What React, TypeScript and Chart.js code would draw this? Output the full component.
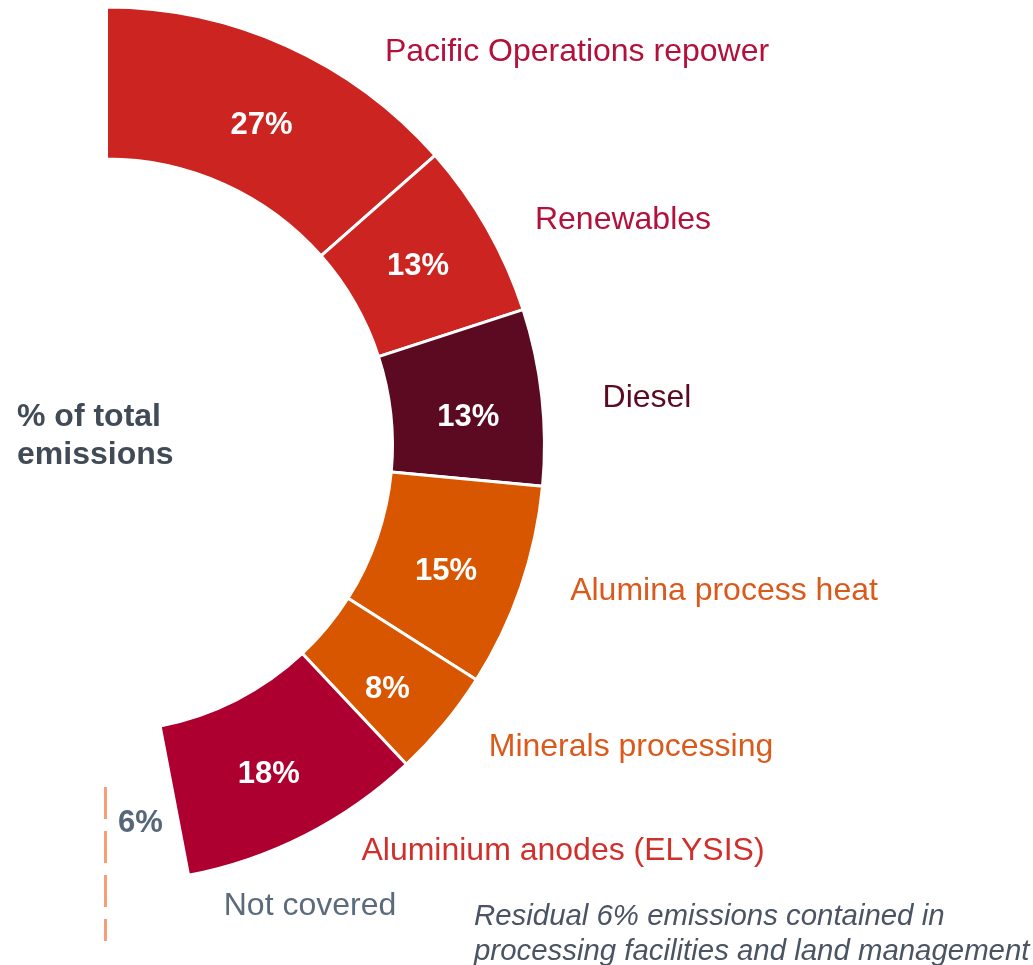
import { useEffect, useRef } from "react";
import { Chart, registerables } from "chart.js";

Chart.register(...registerables);

// ---- data ----
const categories = [
  "Pacific Operations repower",
  "Renewables",
  "Diesel",
  "Alumina process heat",
  "Minerals processing",
  "Aluminium anodes (ELYSIS)",
  "Not covered",
];
const shares = [27, 13, 13, 15, 8, 18, 6];
const axisTitle = ["% of total", "emissions"];
const footnote = [
  "Residual 6% emissions contained in",
  "processing facilities and land management",
];

// ---- styles ----
const segmentColors = [
  "#CB2421",
  "#CB2421",
  "#5B0A22",
  "#D85600",
  "#D85600",
  "#AE0030",
  "rgba(0,0,0,0)",
];
const labelColors = [
  "#B3103B",
  "#B3103B",
  "#5B0A22",
  "#DA5A1C",
  "#DA5A1C",
  "#D0302C",
  "#5B6B7C",
];
const FONT = '"Liberation Sans", Arial, sans-serif';

// ---- layout ----
const LABEL_POS: [number, number][] = [
  [577, 52],
  [623, 220],
  [647, 398],
  [724, 591],
  [631, 747],
  [563, 851],
  [310, 906],
];
const PCT_NUDGE: [number, number][] = [
  [6, 10],
  [-3, 1],
  [2, 12],
  [-3, 9],
  [2, 14],
  [-2, 7],
];

const annotations = {
  id: "annotations",
  afterDatasetsDraw(chart: any) {
    const ctx = chart.ctx as CanvasRenderingContext2D;
    const meta = chart.getDatasetMeta(0);
    ctx.save();
    // percentages inside segments
    ctx.textAlign = "center";
    ctx.textBaseline = "middle";
    ctx.fillStyle = "#FFFFFF";
    ctx.font = `bold 31px ${FONT}`;
    for (let i = 0; i < shares.length - 1; i++) {
      const p = meta.data[i].getCenterPoint(true);
      ctx.fillText(`${shares[i]}%`, p.x + PCT_NUDGE[i][0], p.y + PCT_NUDGE[i][1]);
    }
    // category labels
    ctx.font = `32px ${FONT}`;
    for (let i = 0; i < categories.length; i++) {
      ctx.fillStyle = labelColors[i];
      ctx.fillText(categories[i], LABEL_POS[i][0], LABEL_POS[i][1]);
    }
    // title on the left
    ctx.textAlign = "left";
    ctx.fillStyle = "#414B57";
    ctx.font = `bold 32px ${FONT}`;
    ctx.fillText(axisTitle[0], 17, 417);
    ctx.fillText(axisTitle[1], 17, 455);
    // not covered share
    ctx.fillStyle = "#56677A";
    ctx.font = `bold 31px ${FONT}`;
    ctx.fillText(`${shares[shares.length - 1]}%`, 118, 823);
    // dashed marker
    ctx.strokeStyle = "#F59E78";
    ctx.lineWidth = 3;
    ctx.setLineDash([32, 12]);
    ctx.beginPath();
    ctx.moveTo(105.5, 787);
    ctx.lineTo(105.5, 941);
    ctx.stroke();
    ctx.setLineDash([]);
    // footnote
    ctx.fillStyle = "#4A5462";
    ctx.font = `italic 29.4px ${FONT}`;
    ctx.fillText(footnote[0], 474, 917);
    ctx.fillText(footnote[1], 474, 952);
    ctx.restore();
  },
};

export default function App() {
  const ref = useRef<HTMLCanvasElement | null>(null);
  useEffect(() => {
    if (!ref.current) return;
    const chart = new Chart(ref.current, {
      type: "doughnut",
      data: {
        labels: categories,
        datasets: [
          {
            data: shares,
            backgroundColor: segmentColors,
            hoverBackgroundColor: segmentColors,
            borderColor: "#FFFFFF",
            hoverBorderColor: "#FFFFFF",
            borderWidth: shares.map((_, i) => (i === shares.length - 1 ? 0 : 3)),
            hoverBorderWidth: shares.map((_, i) => (i === shares.length - 1 ? 0 : 3)),
          },
        ],
      },
      options: {
        responsive: false,
        maintainAspectRatio: false,
        animation: false,
        events: [],
        rotation: 0,
        circumference: 180,
        cutout: "65.3%",
        layout: { padding: { left: 100, right: 482, top: 5.5, bottom: 80.5 } },
        plugins: {
          legend: { display: false },
          tooltip: { enabled: false },
        },
      },
      plugins: [annotations],
    });
    return () => chart.destroy();
  }, []);
  return (
    <div
      style={{
        position: "fixed",
        left: 0,
        top: 0,
        width: 1033,
        height: 965,
        background: "#FFFFFF",
      }}
    >
      <canvas
        ref={ref}
        width={1033}
        height={965}
        style={{ position: "absolute", left: 0, top: 0, width: 1033, height: 965 }}
      />
    </div>
  );
}
